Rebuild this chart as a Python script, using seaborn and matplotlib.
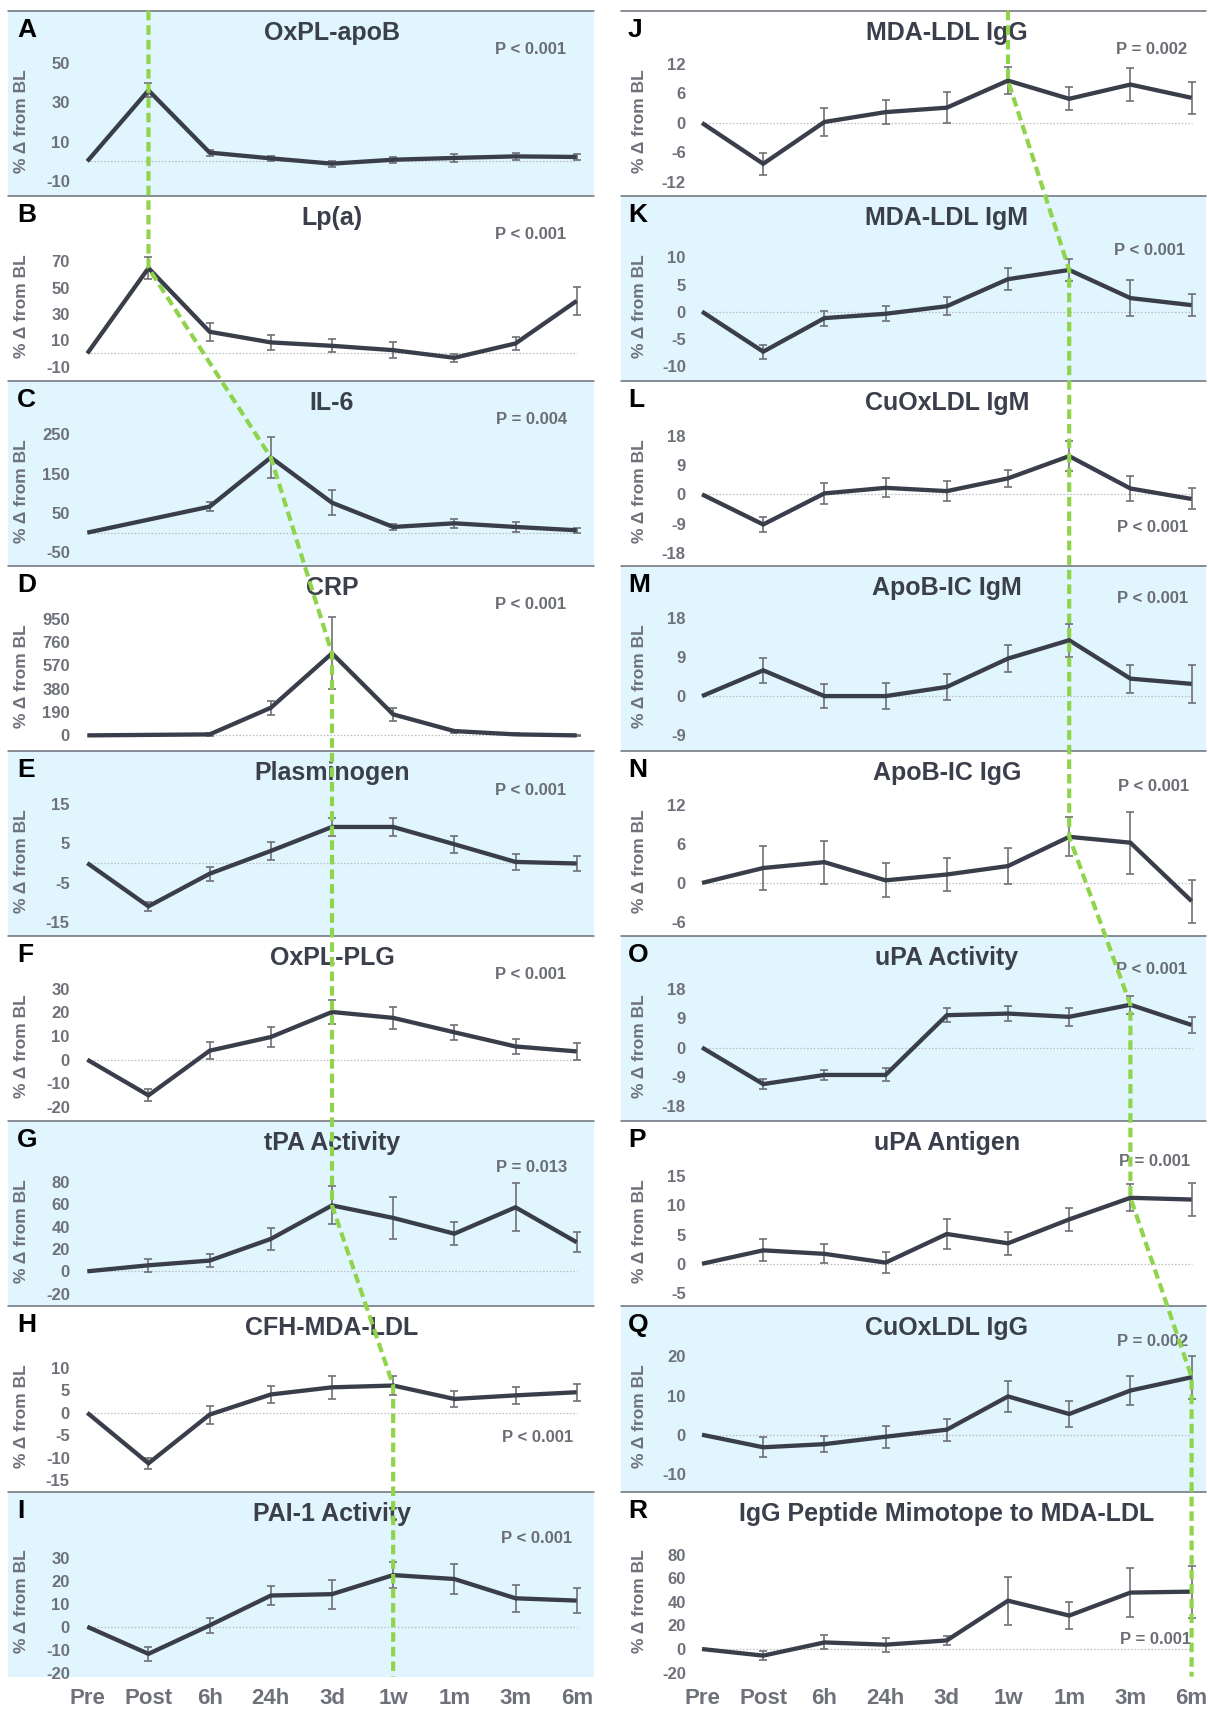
import numpy as np
import pandas as pd
import matplotlib
matplotlib.use("Agg")
import matplotlib.pyplot as plt
from matplotlib.patches import Rectangle
from matplotlib.lines import Line2D
import seaborn as sns

# ---------------- data ----------------
timepoints = ["Pre", "Post", "6h", "24h", "3d", "1w", "1m", "3m", "6m"]
letters = list("ABCDEFGHIJKLMNOPQR")
titles = ["OxPL-apoB", "Lp(a)", "IL-6", "CRP", "Plasminogen", "OxPL-PLG",
          "tPA Activity", "CFH-MDA-LDL", "PAI-1 Activity",
          "MDA-LDL IgG", "MDA-LDL IgM", "CuOxLDL IgM", "ApoB-IC IgM",
          "ApoB-IC IgG", "uPA Activity", "uPA Antigen", "CuOxLDL IgG",
          "IgG Peptide Mimotope to MDA-LDL"]
p_values = ["P < 0.001", "P < 0.001", "P = 0.004", "P < 0.001", "P < 0.001",
            "P < 0.001", "P = 0.013", "P < 0.001", "P < 0.001",
            "P = 0.002", "P < 0.001", "P < 0.001", "P < 0.001", "P < 0.001",
            "P < 0.001", "P = 0.001", "P = 0.002", "P = 0.001"]

nan = np.nan
oxpl_apob = [0, 36, 4.4, 1.5, -1.2, 0.8, 1.7, 2.5, 2.2]
oxpl_apob_err = [0, 3.5, 1.5, 1.2, 1.5, 1.5, 2, 1.8, 1.5]
lpa = [0, 65, 16.5, 8.4, 5.8, 2.5, -3.3, 7.6, 40]
lpa_err = [0, 8.5, 7, 6, 5, 6, 3, 5, 10.5]
il6 = [0, nan, 66, 191, 76, 14.4, 23.7, 14.4, 6]
il6_err = [0, nan, 11, 53, 32, 8, 12, 12, 6]
crp = [0, nan, 8, 225, 668, 171, 35, 8, 0]
crp_err = [0, nan, 10, 58, 293, 50, 12, 8, 5]
plasminogen = [0, -11, -2.7, 3.1, 9.2, 9.2, 4.8, 0.3, -0.1]
plasminogen_err = [0, 1.2, 1.8, 2.2, 2.2, 2.2, 2.2, 2, 2]
oxpl_plg = [0, -15.1, 3.8, 9.6, 20.2, 17.7, 11.6, 5.6, 3.5]
oxpl_plg_err = [0, 2.5, 3.7, 4.4, 5, 4.8, 3.2, 3, 3.5]
tpa_activity = [0, 5.4, 9.6, 29, 59, 47.8, 33.7, 57.3, 26]
tpa_activity_err = [0, 6, 5.5, 9.5, 17, 18.7, 10.5, 21.6, 9]
cfh_mda_ldl = [0, -11.3, -0.4, 4.1, 5.7, 6.1, 3.1, 3.9, 4.6]
cfh_mda_ldl_err = [0, 1.2, 2, 1.9, 2.6, 2.1, 1.8, 1.9, 1.9]
pai1_activity = [0, -11.8, 0.6, 13.6, 14.2, 22.5, 20.8, 12.4, 11.4]
pai1_activity_err = [0, 3, 3.2, 4, 6.3, 5.7, 6.5, 6, 5.4]
mda_ldl_igg = [0, -8.3, 0.2, 2.2, 3.1, 8.6, 4.9, 7.8, 5.1]
mda_ldl_igg_err = [0, 2.2, 2.8, 2.4, 3.1, 2.8, 2.3, 3.3, 3.3]
mda_ldl_igm = [0, -7.4, -1.2, -0.4, 1.0, 6.0, 7.7, 2.5, 1.2]
mda_ldl_igm_err = [0, 1.3, 1.4, 1.4, 1.7, 2, 2.1, 3.3, 2.1]
cuoxldl_igm = [0, -9.2, 0.3, 2.0, 1.0, 4.9, 11.7, 1.8, -1.4]
cuoxldl_igm_err = [0, 2.4, 3.2, 2.9, 3, 2.6, 4.7, 3.8, 3.2]
apob_ic_igm = [0, 5.9, 0, 0, 2.1, 8.6, 12.8, 4.0, 2.8]
apob_ic_igm_err = [0, 2.8, 2.8, 2.9, 2.9, 3.1, 3.8, 3.2, 4.3]
apob_ic_igg = [0, 2.3, 3.2, 0.4, 1.3, 2.6, 7.1, 6.2, -2.8]
apob_ic_igg_err = [0, 3.4, 3.3, 2.6, 2.6, 2.8, 3, 4.8, 3.3]
upa_activity = [0, -11.2, -8.4, -8.4, 9.9, 10.4, 9.4, 13.1, 6.9]
upa_activity_err = [0, 1.5, 1.6, 2, 2.1, 2.4, 2.8, 2.7, 2.3]
upa_antigen = [0, 2.3, 1.7, 0.2, 5.1, 3.5, 7.6, 11.3, 11.0]
upa_antigen_err = [0, 1.9, 1.65, 1.8, 2.6, 2, 2, 2.3, 2.8]
cuoxldl_igg = [0, -3.2, -2.4, -0.5, 1.3, 9.8, 5.3, 11.3, 14.7]
cuoxldl_igg_err = [0, 2.5, 2, 2.8, 2.8, 3.9, 3.2, 3.6, 5.5]
mimotope_igg = [0, -5.6, 5.6, 3.7, 7.3, 41, 28.4, 47.9, 48.7]
mimotope_igg_err = [0, 3.7, 5.9, 5.8, 3.5, 20.5, 11.3, 21, 22]

series = [oxpl_apob, lpa, il6, crp, plasminogen, oxpl_plg, tpa_activity,
          cfh_mda_ldl, pai1_activity, mda_ldl_igg, mda_ldl_igm, cuoxldl_igm,
          apob_ic_igm, apob_ic_igg, upa_activity, upa_antigen, cuoxldl_igg,
          mimotope_igg]
errors = [oxpl_apob_err, lpa_err, il6_err, crp_err, plasminogen_err,
          oxpl_plg_err, tpa_activity_err, cfh_mda_ldl_err, pai1_activity_err,
          mda_ldl_igg_err, mda_ldl_igm_err, cuoxldl_igm_err, apob_ic_igm_err,
          apob_ic_igg_err, upa_activity_err, upa_antigen_err,
          cuoxldl_igg_err, mimotope_igg_err]

yticks = [[-10, 10, 30, 50], [-10, 10, 30, 50, 70], [-50, 50, 150, 250],
          [0, 190, 380, 570, 760, 950], [-15, -5, 5, 15],
          [-20, -10, 0, 10, 20, 30], [-20, 0, 20, 40, 60, 80],
          [-15, -10, -5, 0, 5, 10], [-20, -10, 0, 10, 20, 30],
          [-12, -6, 0, 6, 12], [-10, -5, 0, 5, 10], [-18, -9, 0, 9, 18],
          [-9, 0, 9, 18], [-6, 0, 6, 12], [-18, -9, 0, 9, 18],
          [-5, 0, 5, 10, 15], [-10, 0, 10, 20], [-20, 0, 20, 40, 60, 80]]
ylims = [(-17.5, 76.4), (-20.9, 120), (-84.8, 385.5), (-128, 1379),
         (-18.6, 28.5), (-26.1, 52.3), (-31.4, 134.3), (-17.6, 23.8),
         (-21.7, 58.9), (-14.8, 22.8), (-12.8, 21.4), (-21.9, 34.7),
         (-12.6, 29.8), (-8.2, 20.3), (-22.6, 34.1), (-7.3, 24.4),
         (-14.5, 32.8), (-23.4, 133.7)]
# peak time index followed by the green guide line in each column
peak_idx = [1, 1, 3, 4, 4, 4, 4, 5, 5,
            5, 6, 6, 6, 6, 7, 7, 8, 8]

# ---------------- layout (pixels) ----------------
W, H = 1208, 1709
TOP0, PH = 10.7, 185.1
cols = [dict(bg_l=8, bg_r=594, ax_l=74, pre=87.3, last=576.7, letter=17),
        dict(bg_l=621, bg_r=1206, ax_l=690, pre=702.0, last=1191.6, letter=628)]
blue_rows = [[0, 2, 4, 6, 8], [1, 3, 5, 7]]
p_pos = [(566, 38.6), (566, 38.3), (567, 39), (566, 38.3), (566, 39),
         (566, 38.3), (567, 46.3), (573, 131.6), (572, 46.6),
         (1187, 38.6), (1185, 54.3), (1188, 146.7), (1188, 32.6),
         (1189, 35), (1187, 33.3), (1190, 40.7), (1188, 35.6), (1191, 147.6)]

LINE_C = "#3a3e4a"
TEXT_C = "#3b3f4c"
GRAY_C = "#6e717a"
BLUE = "#e0f5fd"
GREEN = "#8fd44b"

sns.set_theme(style="white")
plt.rcParams["font.family"] = ["Liberation Sans", "DejaVu Sans"]
plt.rcParams["font.weight"] = "bold"
plt.rcParams["axes.labelweight"] = "bold"

fig = plt.figure(figsize=(W / 100, H / 100), dpi=100)
fig.patch.set_facecolor("white")


def fx(px):
    return px / W


def fy(py):
    return 1 - py / H


axes = []
for k in range(18):
    c, r = divmod(k, 9)
    L = cols[c]
    top = TOP0 + r * PH
    # background and separator
    if r in blue_rows[c]:
        fig.add_artist(Rectangle((fx(L["bg_l"]), fy(top + PH)),
                                 fx(L["bg_r"]) - fx(L["bg_l"]), PH / H,
                                 transform=fig.transFigure, facecolor=BLUE,
                                 edgecolor="none", zorder=-5))
    fig.add_artist(Line2D([fx(L["bg_l"]), fx(L["bg_r"])], [fy(top), fy(top)],
                          transform=fig.transFigure, color="#6b6e78",
                          lw=1.1, zorder=-4))

    ax = fig.add_axes([fx(L["ax_l"]), fy(top + PH),
                       fx(L["bg_r"]) - fx(L["ax_l"]), PH / H])
    ax.set_facecolor("none")
    step = (L["last"] - L["pre"]) / 8
    ax.set_xlim(-(L["pre"] - L["ax_l"]) / step, 8 + (L["bg_r"] - L["last"]) / step)
    ax.set_ylim(*ylims[k])

    df = pd.DataFrame({"idx": np.arange(len(timepoints)),
                       "val": series[k], "err": errors[k]})
    ax.hlines(0, 0, len(timepoints) - 1, colors="#b9bcc2", lw=0.9,
              linestyles=(0, (1.2, 1.5)), zorder=1)
    eb = df[df["err"] > 0].dropna()
    ax.errorbar(eb["idx"], eb["val"], yerr=eb["err"], fmt="none",
                ecolor="#6f7075", elinewidth=1.2, capsize=3, capthick=1.2,
                zorder=2)
    sns.lineplot(data=df.dropna(subset=["val"]), x="idx", y="val", ax=ax,
                 color=LINE_C, linewidth=3.1, errorbar=None,
                 solid_capstyle="butt", solid_joinstyle="miter", zorder=3)

    for s in ax.spines.values():
        s.set_visible(False)
    ax.set_yticks(yticks[k])
    ax.set_yticklabels([str(t) for t in yticks[k]])
    ax.tick_params(axis="y", length=0, pad=3, labelsize=12, labelcolor=GRAY_C)
    ax.set_xlabel("")
    if r == 8:
        ax.set_xticks(range(len(timepoints)))
        ax.set_xticklabels(timepoints)
        ax.tick_params(axis="x", length=0, pad=8, labelsize=16,
                       labelcolor=GRAY_C)
    else:
        ax.set_xticks([])
    ax.set_ylabel("% Δ from BL", fontsize=12.5, color=GRAY_C,
                  fontweight="bold", va="center", ha="center")
    lab_x = 22 if c == 0 else 640
    ax.yaxis.set_label_coords((lab_x - L["ax_l"]) / (L["bg_r"] - L["ax_l"]),
                              1 - 110 / PH)
    ax.grid(False)

    # title, letter, p-value
    ax.text(4, 1 - 22 / PH, titles[k], transform=ax.get_xaxis_transform(),
            ha="center", va="center", fontsize=18, fontweight="bold",
            color=TEXT_C, zorder=4)
    fig.text(fx(L["letter"]), fy(top + 19), letters[k], ha="left",
             va="center", fontsize=19, fontweight="bold", color="black")
    px, py = p_pos[k]
    fig.text(fx(px), fy(top + py), p_values[k], ha="right", va="center",
             fontsize=12, fontweight="bold", color="#6a6d74")
    axes.append(ax)

# green guide line through the peak of each panel
inv = fig.transFigure.inverted()
for c in range(2):
    pts = []
    first = axes[c * 9]
    x0 = first.transData.transform((peak_idx[c * 9], 0))[0]
    y0 = first.transAxes.transform((0, 1))[1]
    pts.append((x0, y0))
    for r in range(9):
        k = c * 9 + r
        ax = axes[k]
        pts.append(tuple(ax.transData.transform((peak_idx[k], series[k][peak_idx[k]]))))
    last = axes[c * 9 + 8]
    xl = last.transData.transform((peak_idx[c * 9 + 8], 0))[0]
    yl = last.transAxes.transform((0, 0))[1]
    pts.append((xl, yl))
    fpts = inv.transform(np.array(pts))
    fig.add_artist(Line2D(fpts[:, 0], fpts[:, 1], transform=fig.transFigure,
                          color=GREEN, lw=3, ls=(0, (2.3, 1.2)), zorder=20))

fig.savefig("out.png", dpi=100, facecolor="white")
